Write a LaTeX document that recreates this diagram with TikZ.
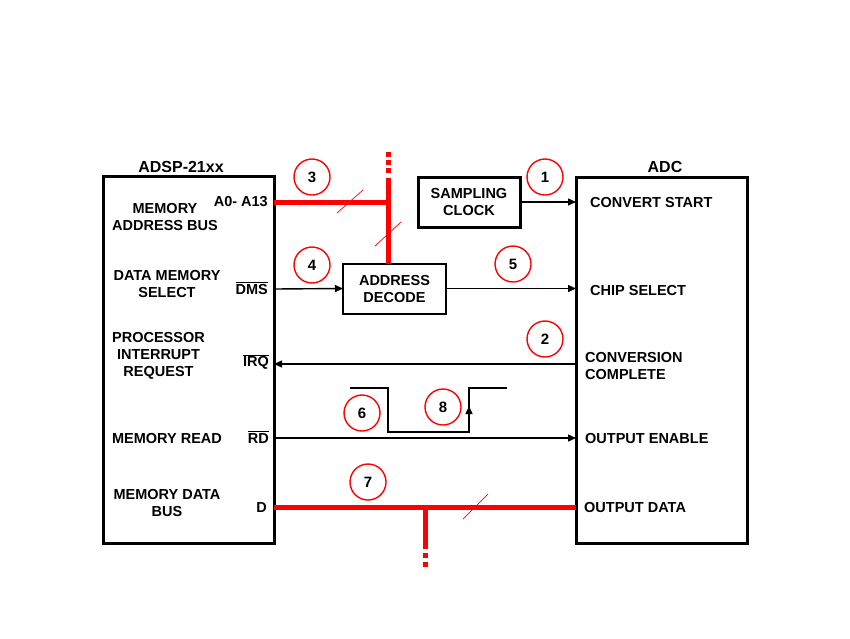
\documentclass[tikz,border=0pt]{standalone}
\usepackage{fontspec}
\setmainfont{Liberation Sans}
\usetikzlibrary{arrows.meta}
\begin{document}
\begin{tikzpicture}[x=1pt,y=-1pt,
  blk/.style={draw, line width=3pt, inner sep=0pt, outer sep=0pt},
  txt/.style={font=\fontsize{14.5}{17}\selectfont\bfseries, inner sep=0pt, align=center},
  ttl/.style={font=\fontsize{16}{19}\selectfont\bfseries, inner sep=0pt},
  sig/.style={line width=1.4pt, -{Triangle[length=8pt,width=7pt]}},
  wire/.style={line width=1.4pt},
  bus/.style={red, line width=5pt},
  tick/.style={red, line width=0.7pt},
  num/.style={draw=red, line width=1.4pt, circle, minimum size=36pt, inner sep=0pt,
              font=\fontsize{15}{17}\selectfont\bfseries}
]
\useasboundingbox (0,0) rectangle (850,638);

% blocks
\node[blk, minimum width=171pt, minimum height=367pt] (dsp) at (188.5,359.5) {};
\node[blk, minimum width=171pt, minimum height=366pt] (adc) at (661.5,360) {};
\node[blk, minimum width=102pt, minimum height=50pt, txt] (clk) at (469,202) {SAMPLING\\CLOCK};
\node[blk, line width=2pt, minimum width=103pt, minimum height=50pt, txt] (dec) at (394.5,288.5) {ADDRESS\\DECODE};

% titles
\node[ttl] (tdsp) at (181,167) {ADSP-21xx};
\node[ttl] (tadc) at (665,167) {ADC};

% DSP labels
\node[txt] (l1) at (165,217) {MEMORY\\ADDRESS BUS};
\node[txt, anchor=east] (pa) at (268,202) {A0- A13};
\node[txt] (l2) at (167,284) {DATA MEMORY\\SELECT};
\node[txt, anchor=east] (pdms) at (268,288) {$\overline{\mbox{DMS}}$};
\node[txt] (l3) at (158.5,356) {PROCESSOR\\INTERRUPT\\REQUEST};
\node[txt, anchor=east] (pirq) at (269,362) {$\overline{\mbox{IRQ}}$};
\node[txt] (l4) at (167,438) {MEMORY READ};
\node[txt, anchor=east] (prd) at (269,437) {$\overline{\mbox{RD}}$};
\node[txt] (l5) at (167,503) {MEMORY DATA\\BUS};
\node[txt, anchor=east] (pd) at (267,507) {D};

% ADC labels
\node[txt, anchor=west] (r1) at (590,203) {CONVERT START};
\node[txt, anchor=west] (r2) at (590,290) {CHIP SELECT};
\node[txt, anchor=west, align=left] (r3) at (585,366) {CONVERSION\\COMPLETE};
\node[txt, anchor=west] (r4) at (585,438) {OUTPUT ENABLE};
\node[txt, anchor=west] (r5) at (584,507) {OUTPUT DATA};

% coordinates on the lines
\coordinate (ya) at (0,202);
\coordinate (ydms) at (0,289);
\coordinate (yirq) at (0,364);
\coordinate (yrd) at (0,438);
\coordinate (yd) at (0,507);
\coordinate (vb) at (388,202);
\coordinate (db) at (425,507);

% signals
\draw[sig] (clk.east) -- (clk.east -| adc.west);
\draw[sig] (dsp.east |- ydms) -- (dec.west);
\draw[sig] (dec.east) -- (dec.east -| adc.west);
\draw[sig] (adc.west |- yirq) -- (dsp.east |- yirq);
\draw[sig] (dsp.east |- yrd) -- (adc.west |- yrd);

% address bus
\draw[bus] (dsp.east |- ya) -- (vb) -- (vb |- dec.north);
\draw[bus] (388,178) -- (388,202);
\draw[bus, dash pattern=on 4.5pt off 3.5pt] (388,152) -- (388,176);
\draw[tick] (337,213) -- (363,190);
\draw[tick] (375,246) -- (401,222);

% data bus
\draw[bus] (dsp.east |- yd) -- (adc.west |- yd);
\draw[bus] (db) -- (425,549);
\draw[bus, dash pattern=on 5pt off 4pt] (425,553) -- (425,568);
\draw[tick] (463,519) -- (488,494);

% waveform
\draw[wire] (350,388) -- (388,388) -- (388,432) -- (469,432) -- (469,388) -- (507,388);
\draw[wire, -{Triangle[length=8pt,width=7pt]}] (469,423) -- (469,406);

% numbered circles
\node[num] (n3) at (312,177) {3};
\node[num] (n4) at (312,265) {4};
\node[num] (n1) at (545,177) {1};
\node[num] (n5) at (513,264) {5};
\node[num] (n2) at (545,339) {2};
\node[num] (n6) at (362,413) {6};
\node[num] (n8) at (443,407) {8};
\node[num] (n7) at (368,482) {7};
\end{tikzpicture}
\end{document}
